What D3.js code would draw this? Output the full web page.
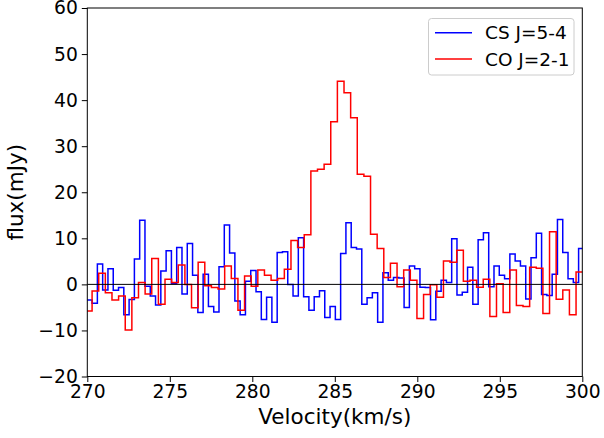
<!DOCTYPE html>
<html lang="en">

<head>
    <meta charset="utf-8">
    <script src="https://d3js.org/d3.v7.min.js"></script>
    <style>
        body { margin: 0; background: #fff; }
        text { font-family: "DejaVu Sans", sans-serif; fill: #000; }
    </style>
</head>

<body>
    <script>
        // channel grids (km/s): first channel edge and channel width
        const csStart = 270.29, csWidth = 0.3205;
        const coStart = 270.29, coWidth = 0.4018;

        // CS J=5-4 flux per channel (mJy)
        const csFlux = [-3.4, -4.1, 4.4, -1.2, 3.4, -1.3, -0.7, -6.6, -3.3, 5.5,
            13.9, -0.4, -2.5, -4.5, 2.9, 7.3, 0.2, 8.0, -2.1, 8.9,
            2.0, -6.1, 2.2, -4.8, -6.0, 3.8, 12.9, 6.8, -3.6, -6.6,
            0.7, 3.0, -1.6, -7.6, -2.8, -8.2, 6.9, 7.1, 0.0, -2.5,
            10.1, -2.7, -5.6, -2.7, -1.4, -7.2, -4.8, -7.6, 6.7, 13.4,
            8.0, 7.7, -4.3, -2.9, -1.8, -8.2, 2.5, 0.9, 1.5, 1.4,
            -5.0, 4.0, 3.4, -0.6, -0.7, -7.7, -1.5, 0.9, 0.4, 9.9,
            -2.3, -1.7, 3.7, -4.3, 9.7, 11.2, -0.5, 4.0, 2.0, 1.2,
            6.6, 5.1, 4.0, -3.2, 5.8, 11.1, -2.2, -2.4, 2.2, 14.1,
            6.9, 1.2, 0.4, 7.8];

        // CO J=2-1 flux per channel (mJy)
        const coFlux = [-5.8, -1.45, 2.4, -1.8, -3.4, -2.5, -9.9, -2.9, 0.4, -2.1,
            5.6, -4.3, 1.1, 0.4, 4.2, 0.0, -5.1, 4.8, -0.3, -0.7,
            -1.0, 4.0, 1.3, -5.6, 1.8, -0.4, 3.1, 2.0, 0.9, 1.3,
            3.3, 9.5, 8.0, 10.8, 24.6, 25.0, 26.1, 35.3, 44.1, 41.6,
            36.2, 23.9, 23.5, 10.9, 7.8, 1.5, 4.6, -0.5, 3.1, 0.9,
            -7.4, -2.2, -0.1, -2.8, 5.1, 4.8, 7.4, 0.7, 0.9, -0.65,
            1.1, -7.0, 0.15, -6.1, 3.1, -4.6, -4.8, 3.7, 3.5, -6.3,
            11.4, -3.25, -1.2, -6.6, 2.7];

        const xTicks = [270, 275, 280, 285, 290, 295, 300];
        const yTicks = [-20, -10, 0, 10, 20, 30, 40, 50, 60];
        const seriesNames = ["CS J=5-4", "CO J=2-1"];
        const seriesColors = ["#0000ff", "#ff0000"];

        const width = 604, height = 438;
        const plotLeft = 87.3, plotRight = 582.3, plotTop = 8, plotBottom = 376.5;

        const svg = d3.select("body").append("svg")
            .attr("width", width)
            .attr("height", height);

        const x = d3.scaleLinear().domain([270, 300]).range([plotLeft, plotRight]);
        const y = d3.scaleLinear().domain([-20, 60]).range([plotBottom, plotTop]);

        svg.append("clipPath").attr("id", "plot")
            .append("rect")
            .attr("x", plotLeft).attr("y", plotTop)
            .attr("width", plotRight - plotLeft).attr("height", plotBottom - plotTop);

        // turn a channel list into step points (left edges + closing edge)
        function steps(start, w, flux) {
            const pts = flux.map(function (f, i) { return [start + (i - 1) * w, f]; });
            pts.push([start + (flux.length - 1) * w, flux[flux.length - 1]]);
            return pts;
        }

        const line = d3.line()
            .x(function (d) { return x(d[0]); })
            .y(function (d) { return y(d[1]); })
            .curve(d3.curveStepAfter);

        const plot = svg.append("g").attr("clip-path", "url(#plot)");

        plot.append("path")
            .attr("d", line(steps(csStart, csWidth, csFlux)))
            .attr("fill", "none")
            .attr("stroke", seriesColors[0])
            .attr("stroke-width", 1.5);

        plot.append("path")
            .attr("d", line(steps(coStart, coWidth, coFlux)))
            .attr("fill", "none")
            .attr("stroke", seriesColors[1])
            .attr("stroke-width", 1.5);

        // zero line
        svg.append("line")
            .attr("x1", plotLeft).attr("x2", plotRight)
            .attr("y1", y(0)).attr("y2", y(0))
            .attr("stroke", "#000")
            .attr("stroke-width", 1);

        // axes
        const xAxis = svg.append("g")
            .attr("transform", "translate(0," + plotBottom + ")")
            .call(d3.axisBottom(x).tickValues(xTicks).tickSize(5.5).tickPadding(3)
                .tickFormat(d3.format("d")));
        const yAxis = svg.append("g")
            .attr("transform", "translate(" + plotLeft + ",0)")
            .call(d3.axisLeft(y).tickValues(yTicks).tickSize(5.5).tickPadding(4)
                .tickFormat(function (d) { return d < 0 ? "\u2212" + Math.abs(d) : d; }));

        [xAxis, yAxis].forEach(function (g) {
            g.select(".domain").remove();
            g.selectAll(".tick line").attr("stroke", "#000").attr("stroke-width", 1);
            g.selectAll(".tick text")
                .style("font-family", "DejaVu Sans")
                .style("font-size", "18.7px")
                .attr("fill", "#000");
        });

        // frame
        svg.append("rect")
            .attr("x", plotLeft).attr("y", plotTop)
            .attr("width", plotRight - plotLeft).attr("height", plotBottom - plotTop)
            .attr("fill", "none")
            .attr("stroke", "#000")
            .attr("stroke-width", 1);

        // axis labels
        svg.append("text")
            .attr("x", (plotLeft + plotRight) / 2)
            .attr("y", 424)
            .attr("text-anchor", "middle")
            .style("font-size", "21.5px")
            .text("Velocity(km/s)");

        svg.append("text")
            .attr("transform", "translate(22.5," + (plotTop + plotBottom) / 2 + ") rotate(-90)")
            .attr("text-anchor", "middle")
            .style("font-size", "21.5px")
            .text("flux(mJy)");

        // legend
        const legend = svg.append("g");
        legend.append("rect")
            .attr("x", 428.5).attr("y", 18.5)
            .attr("width", 145.5).attr("height", 56.5)
            .attr("rx", 3)
            .attr("fill", "#fff")
            .attr("fill-opacity", 0.8)
            .attr("stroke", "#cccccc")
            .attr("stroke-width", 1);

        seriesNames.forEach(function (name, i) {
            const ly = 32.7 + i * 26.3;
            legend.append("line")
                .attr("x1", 435).attr("x2", 472)
                .attr("y1", ly).attr("y2", ly)
                .attr("stroke", seriesColors[i])
                .attr("stroke-width", 1.5);
            legend.append("text")
                .attr("x", 485)
                .attr("y", ly + 6.6)
                .style("font-size", "18.5px")
                .text(name);
        });
    </script>
</body>

</html>
